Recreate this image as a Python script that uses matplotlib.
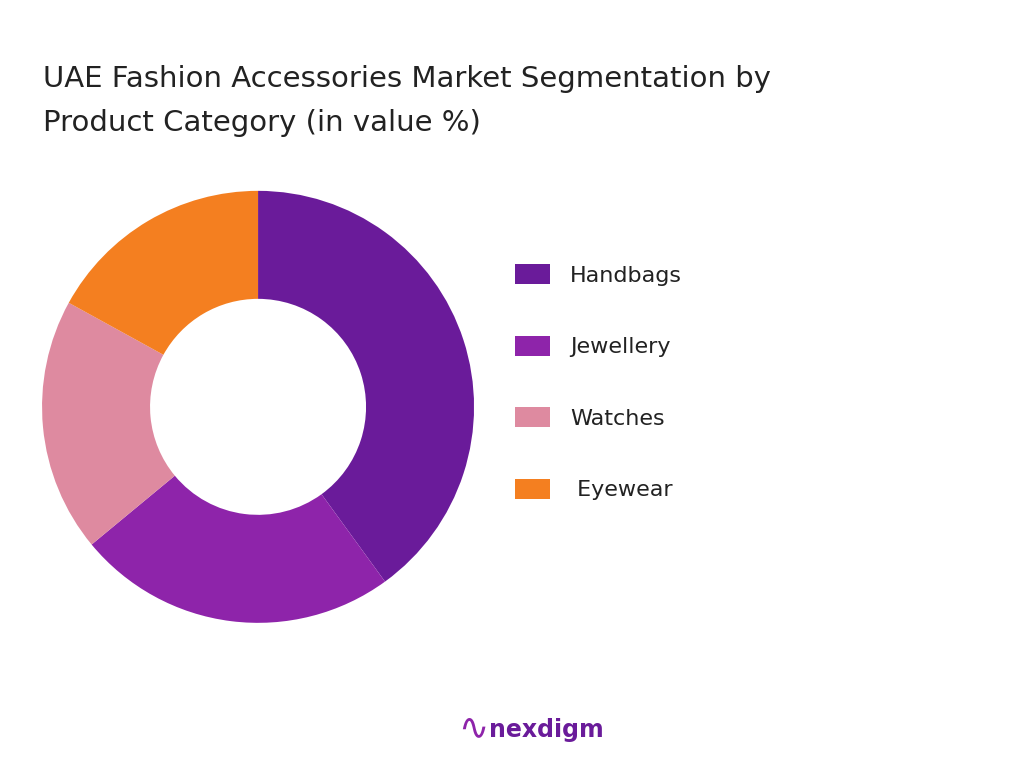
import matplotlib.pyplot as plt

categories = ['Handbags', 'Jewellery', 'Watches', ' Eyewear']
shares = [40, 24, 19, 17]
colors = ['#6A1B9A', '#8E24AA', '#DE8AA0', '#F47F20']

fig = plt.figure(figsize=(10.24, 7.68), dpi=100)
fig.text(0.042, 0.822, 'UAE Fashion Accessories Market Segmentation by\nProduct Category (in value %)',
         fontsize=21, color='#222222', va='bottom', linespacing=1.7)

ax = fig.add_axes([0.041, 0.189, 0.422, 0.5625])
wedges, _ = ax.pie(shares, colors=colors, startangle=90, counterclock=False,
                   wedgeprops=dict(width=0.5, linewidth=0))
ax.set_xlim(-1, 1)
ax.set_ylim(-1, 1)
ax.set_aspect('equal')

leg = fig.legend(wedges, categories, loc='upper left', bbox_to_anchor=(0.483, 0.682),
                 frameon=False, fontsize=16, handlelength=1.6, handleheight=1.0,
                 labelspacing=2.25, handletextpad=0.9)
for t in leg.get_texts():
    t.set_color('#222222')

fig.text(0.478, 0.034, 'nexdigm', fontsize=17, color='#6A1B9A', fontweight='bold', va='bottom')
fig.text(0.447, 0.030, '∿', fontsize=26, color='#8E24AA', va='bottom')

fig.savefig('out.png', dpi=100)
